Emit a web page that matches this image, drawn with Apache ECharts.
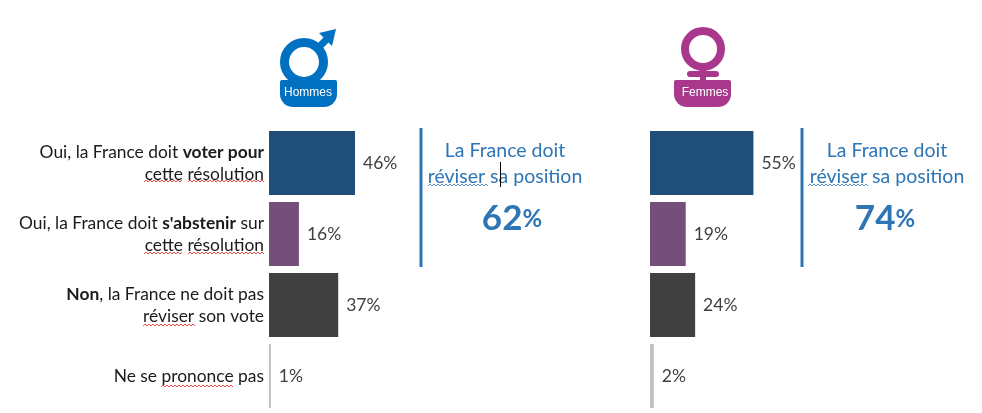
<!DOCTYPE html>
<html>
<head>
<meta charset="utf-8">
<style>
html, body { margin: 0; padding: 0; background: #fff; }
#chart { width: 982px; height: 413px; }
</style>
<script src="https://cdn.jsdelivr.net/npm/echarts@6/dist/echarts.min.js"></script>
</head>
<body>
<div id="chart"></div>
<script>
var categories = [
    'Oui, la France doit {b|voter pour}\ncette résolution',
    "Oui, la France doit {b|s'abstenir} sur\ncette résolution",
    '{b|Non}, la France ne doit pas\nréviser son vote',
    'Ne se prononce pas'
];
var hommesValues = [46, 16, 37, 1];
var femmesValues = [55, 19, 24, 2];
var barColors = ['#1F4E79', '#734F7A', '#404040', '#BFBFBF'];
var calloutLines = 'La France doit\nréviser sa position';
var hommesTotal = 62;
var femmesTotal = 74;

var FONT = 'Lato';
var BLUE = '#2E75B6';
var MALE = '#0070C0';
var FEMALE = '#A9388D';

// barres colorees une par une
var buildBars = function(values) {
    return values.map(function(v, i) {
        return { value: v, itemStyle: { color: barColors[i] } };
    });
};

var buildSeries = function(values, index) {
    return {
        type: 'bar',
        xAxisIndex: index,
        yAxisIndex: index,
        barWidth: 64,
        silent: true,
        data: buildBars(values),
        label: {
            show: true,
            position: 'right',
            distance: 8,
            formatter: '{c}%',
            fontFamily: FONT,
            fontSize: 17.5,
            color: '#404040'
        }
    };
};

// soulignement ondule du correcteur
var wavy = function(x1, x2, y, color) {
    var points = [];
    var up = false;
    for (var x = x1; x < x2; x += 2) {
        points.push([x, up ? y - 1 : y + 1]);
        up = !up;
    }
    return {
        type: 'polyline',
        silent: true,
        z: 20,
        shape: { points: points },
        style: { fill: null, stroke: color, lineWidth: 0.8 }
    };
};

var vertical = function(x, y1, y2, color, width) {
    return {
        type: 'line',
        silent: true,
        z: 20,
        shape: { x1: x, y1: y1, x2: x, y2: y2 },
        style: { stroke: color, lineWidth: width }
    };
};

var callout = function(lineX, centerX, pctCenterX, total) {
    return [
        vertical(lineX, 128, 267, BLUE, 3),
        {
            type: 'text',
            silent: true,
            z: 20,
            style: {
                x: centerX,
                y: 164,
                text: calloutLines,
                font: '19.5px ' + FONT,
                lineHeight: 26,
                fill: BLUE,
                align: 'center',
                verticalAlign: 'middle'
            }
        },
        {
            type: 'text',
            silent: true,
            z: 20,
            style: {
                x: pctCenterX,
                y: 219,
                text: '{n|' + total + '}{p|%}',
                fill: BLUE,
                align: 'center',
                verticalAlign: 'middle',
                rich: {
                    n: { font: 'bold 35px ' + FONT, fill: BLUE },
                    p: { font: 'bold 24px ' + FONT, fill: BLUE }
                }
            }
        }
    ];
};

var iconBase = function(x, width, color, text, textX) {
    return [
        {
            type: 'rect',
            silent: true,
            shape: { x: x, y: 80, width: width, height: 27, r: [2, 2, 13, 13] },
            style: { fill: color }
        },
        {
            type: 'text',
            silent: true,
            z: 5,
            style: {
                x: textX,
                y: 93,
                text: text,
                font: '12px "Liberation Sans"',
                fill: '#fff',
                align: 'center',
                verticalAlign: 'middle'
            }
        }
    ];
};

var ring = function(cx, cy, r, width, color) {
    return {
        type: 'circle',
        silent: true,
        shape: { cx: cx, cy: cy, r: r },
        style: { fill: null, stroke: color, lineWidth: width }
    };
};

var stroke = function(x1, y1, x2, y2, color, width, cap) {
    return {
        type: 'line',
        silent: true,
        shape: { x1: x1, y1: y1, x2: x2, y2: y2 },
        style: { stroke: color, lineWidth: width, lineCap: cap || 'butt' }
    };
};

var icons = [
    ring(304, 62, 19.5, 9, MALE),
    stroke(316, 50, 329, 37, MALE, 7),
    {
        type: 'polygon',
        silent: true,
        shape: { points: [[319, 33], [336, 29], [332, 46]] },
        style: { fill: MALE }
    },
    ring(703, 49, 18, 8, FEMALE),
    stroke(703, 66, 703, 82, FEMALE, 6),
    stroke(690, 74, 716, 74, FEMALE, 6, 'round')
].concat(
    iconBase(280, 57, MALE, 'Hommes', 308),
    iconBase(674, 57, FEMALE, 'Femmes', 705)
);

var underlines = [
    wavy(144, 184, 181, '#E02020'),
    wavy(188, 265, 181, '#E02020'),
    wavy(144, 184, 253, '#E02020'),
    wavy(188, 265, 253, '#E02020'),
    wavy(143, 196, 325, '#E02020'),
    wavy(161, 235, 386, '#E02020'),
    wavy(428, 489, 185, '#2E75B6'),
    wavy(808, 870, 185, '#2E75B6')
];

var chart = echarts.init(document.getElementById('chart'), null, { renderer: 'canvas' });

chart.setOption({
    animation: false,
    backgroundColor: '#fff',
    textStyle: { fontFamily: FONT },
    grid: [
        { left: 269, top: 127.5, width: 187, height: 284 },
        { left: 650, top: 127.5, width: 188, height: 284 }
    ],
    xAxis: [
        { type: 'value', gridIndex: 0, min: 0, max: 100, show: false },
        { type: 'value', gridIndex: 1, min: 0, max: 100, show: false }
    ],
    yAxis: [
        {
            type: 'category',
            gridIndex: 0,
            inverse: true,
            data: categories,
            axisLine: { show: false },
            axisTick: { show: false },
            axisLabel: {
                margin: 5,
                align: 'right',
                fontFamily: FONT,
                fontSize: 17.4,
                lineHeight: 22,
                color: '#1A1A1A',
                rich: {
                    b: {
                        fontFamily: FONT,
                        fontSize: 17.4,
                        fontWeight: 'bold',
                        lineHeight: 22,
                        color: '#1A1A1A'
                    }
                }
            }
        },
        {
            type: 'category',
            gridIndex: 1,
            inverse: true,
            data: categories,
            axisLine: { show: false },
            axisTick: { show: false },
            axisLabel: { show: false }
        }
    ],
    series: [
        buildSeries(hommesValues, 0),
        buildSeries(femmesValues, 1)
    ],
    graphic: icons.concat(
        callout(421, 505, 512, hommesTotal),
        callout(802, 887, 885, femmesTotal),
        underlines,
        [vertical(500.5, 162, 187, '#000', 1)]
    )
});

window.addEventListener('resize', function() {
    chart.resize();
});
</script>
</body>
</html>
